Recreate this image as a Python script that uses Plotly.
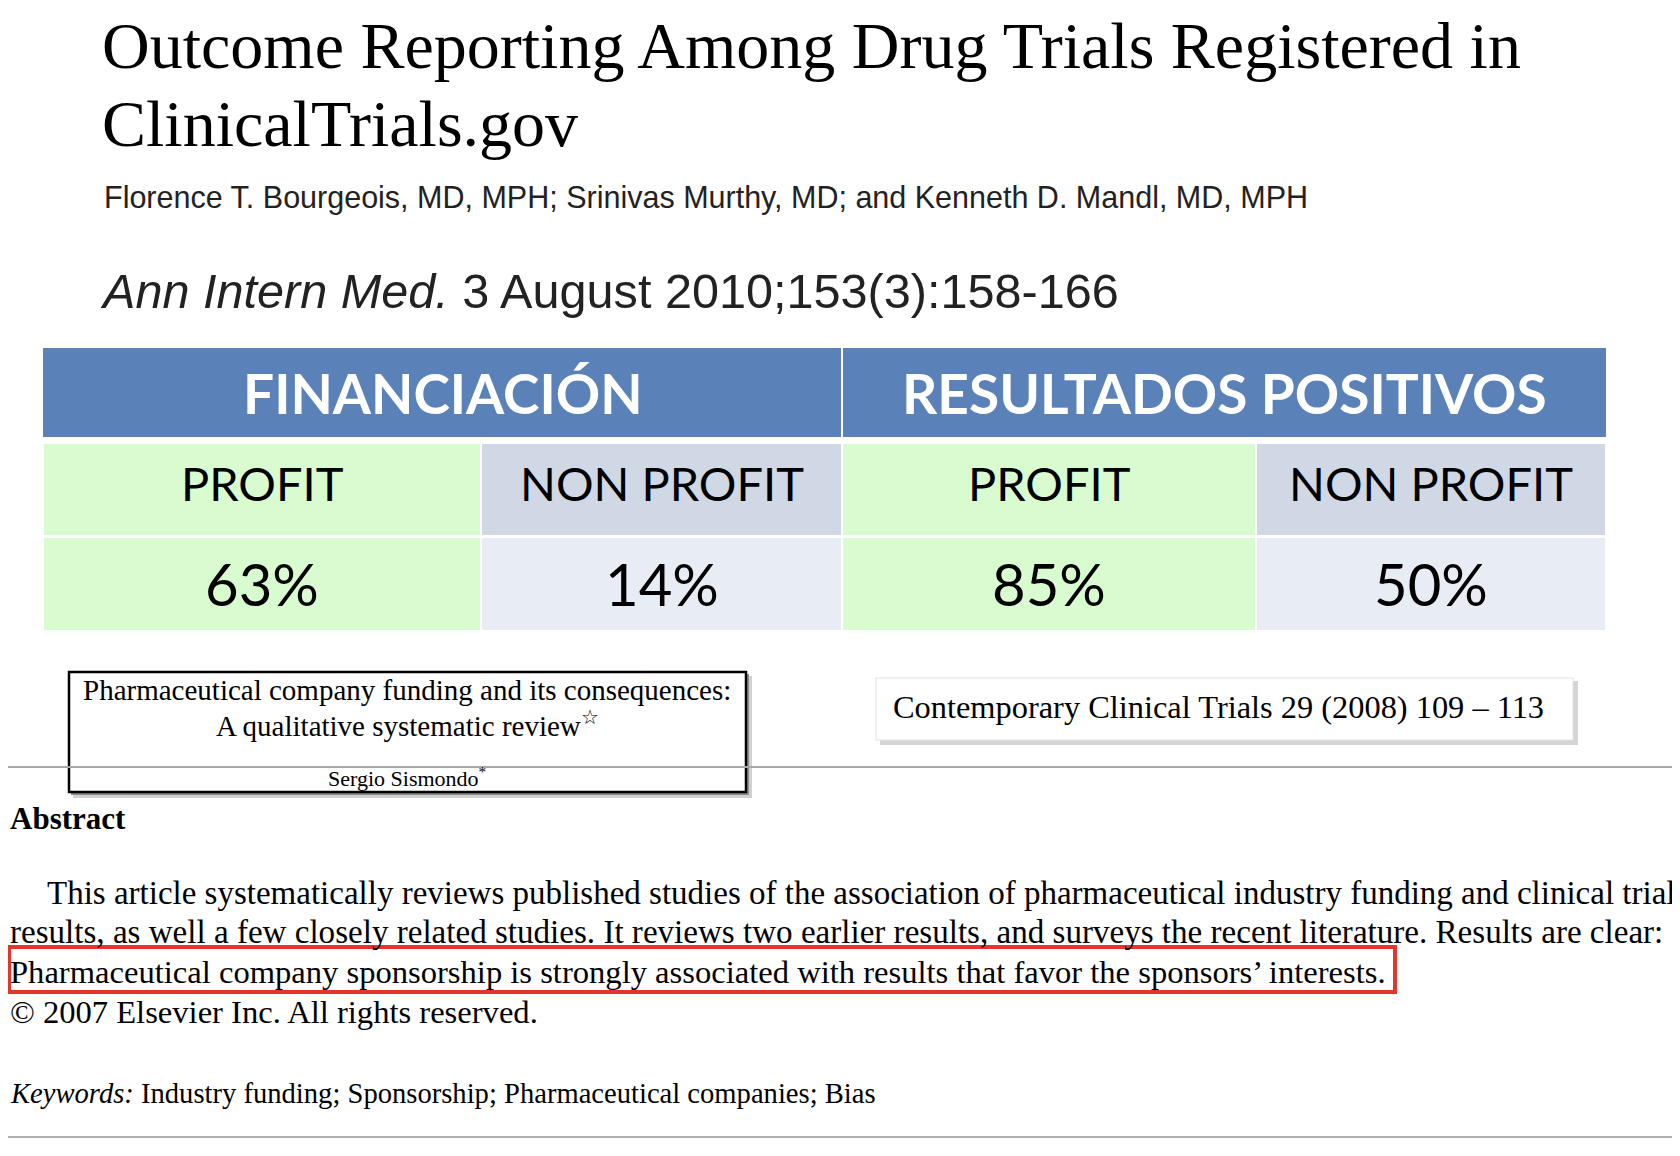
import plotly.graph_objects as go

W, H = 1680, 1156
OFF = 8  # margen del <body> en la página

# texto de la cabecera (artículos citados)
title_lines = ["Outcome Reporting Among Drug Trials Registered in", "ClinicalTrials.gov"]
authors = "Florence T. Bourgeois, MD, MPH; Srinivas Murthy, MD; and Kenneth D. Mandl, MD, MPH"
citation = "<i>Ann Intern Med.</i> 3 August 2010;153(3):158-166"

# tabla
group_labels = ["FINANCIACIÓN", "RESULTADOS POSITIVOS"]
sub_labels = ["PROFIT", "NON PROFIT", "PROFIT", "NON PROFIT"]
pct_values = [63, 14, 85, 50]

# segundo artículo
review_title = ["Pharmaceutical company funding and its consequences:",
                "A qualitative systematic review<sup>☆</sup>"]
review_author = "Sergio Sismondo<sup>*</sup>"
journal_ref = "Contemporary Clinical Trials 29 (2008) 109 – 113"
abstract_lines = [
    "This article systematically reviews published studies of the association of pharmaceutical industry funding and clinical trial",
    "results, as well a few closely related studies. It reviews two earlier results, and surveys the recent literature. Results are clear:",
    "Pharmaceutical company sponsorship is strongly associated with results that favor the sponsors’ interests.",
    "© 2007 Elsevier Inc. All rights reserved.",
]
keywords = "<i>Keywords:</i> Industry funding; Sponsorship; Pharmaceutical companies; Bias"

BLUE = "#5b82b8"
GREEN = "#d8fbd0"
GREY = "#d0d8e6"
LIGHT = "#e8ecf4"
SERIF = "Liberation Serif"
SANS = "Liberation Sans"
CAL = "Lato"

fig = go.Figure()
shapes = []
ann = []


def rect(x0, y0, x1, y1, fill, line=None, lw=0):
    shapes.append(dict(type="rect", xref="x", yref="y", x0=x0, y0=y0, x1=x1, y1=y1,
                       fillcolor=fill, line=dict(color=line or fill, width=lw), layer="below"))


def text(x, y, s, size, font=SERIF, color="black", anchor="left", bold=False):
    ann.append(dict(x=x, y=y, xref="x", yref="y", text=s, showarrow=False, xanchor=anchor,
                    yanchor="middle", font=dict(family=font, size=size, color=color,
                                                weight="bold" if bold else "normal")))


# cabecera
text(100, 45, title_lines[0], 66)
text(100, 123, title_lines[1], 66)
text(102, 197, authors, 30.5, font=SANS, color="#222")
text(98, 291, citation, 48.6, font=SANS, color="#222")

# tabla
col_x = [43, 481, 842, 1256, 1606]
hdr = (348, 437)
row2 = (444, 535)
row3 = (537, 630)
sub_fill = [GREEN, GREY, GREEN, GREY]
val_fill = [GREEN, LIGHT, GREEN, LIGHT]
for g, lab in enumerate(group_labels):
    x0, x1 = col_x[2 * g], col_x[2 * g + 2]
    rect(x0 + (1 if g else 0), hdr[0], x1 - (0 if g else 1), hdr[1], BLUE)
    text((x0 + x1) / 2, (hdr[0] + hdr[1]) / 2, lab, 55, font=CAL, color="white",
         anchor="center", bold=True)
for i in range(4):
    x0, x1 = col_x[i] + 1, col_x[i + 1] - 1
    rect(x0, row2[0], x1, row2[1], sub_fill[i])
    rect(x0, row3[0] + 1, x1, row3[1], val_fill[i])
    xc = (col_x[i] + col_x[i + 1]) / 2
    text(xc, (row2[0] + row2[1]) / 2 - 7, sub_labels[i], 47, font=CAL, anchor="center")
    text(xc, (row3[0] + row3[1]) / 2, f"{pct_values[i]}%", 58, font=CAL, anchor="center")

# líneas separadoras
shapes.append(dict(type="line", x0=OFF, x1=W + OFF, y0=767, y1=767, line=dict(color="#a8a8a8", width=2)))
shapes.append(dict(type="line", x0=OFF, x1=W + OFF, y0=1137, y1=1137, line=dict(color="#b0b0b0", width=2)))

# recuadro del artículo de revisión (con sombra)
rect(73, 676, 752, 798, "#d0d0d0")
rect(71, 674, 749, 795, "#8c8c8c")
rect(69, 672, 746, 792, "white", line="black", lw=2.5)
text(407, 690, review_title[0], 29, anchor="center")
text(407, 724, review_title[1], 29, anchor="center")
text(407, 777, review_author, 22, anchor="center")

# recuadro de la revista
rect(880, 681, 1578, 745, "#d4d4d4")
rect(876, 678, 1573, 740, "white", line="#e2e2e2", lw=1)
text(1218, 707, journal_ref, 32.4, anchor="center")

# resumen
text(OFF, 818, "Abstract", 31, bold=True)
line_y = [893, 932, 972, 1012]
line_size = [33, 33.1, 32.6, 32.6]
text(45, line_y[0], abstract_lines[0], line_size[0])
for k in range(1, 4):
    text(OFF, line_y[k], abstract_lines[k], line_size[k])
text(OFF, 1093, keywords, 28.6)

# marca roja
shapes.append(dict(type="rect", x0=OFF + 1, x1=1395, y0=947, y1=992,
                   line=dict(color="#e5352a", width=4), fillcolor="rgba(0,0,0,0)"))

fig.update_layout(
    width=W, height=H, margin=dict(l=0, r=0, t=0, b=0),
    paper_bgcolor="white", plot_bgcolor="white",
    xaxis=dict(range=[OFF, W + OFF], visible=False, fixedrange=True),
    yaxis=dict(range=[H + OFF, OFF], visible=False, fixedrange=True),
    shapes=shapes, annotations=ann, showlegend=False,
)
fig.write_html("out.html")
